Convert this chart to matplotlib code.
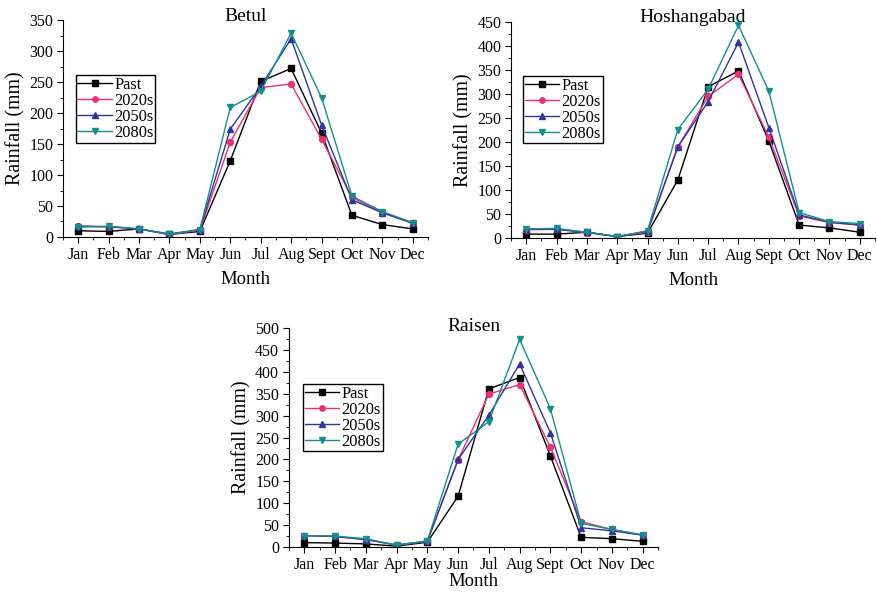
import matplotlib
matplotlib.use("Agg")
import matplotlib.pyplot as plt
from matplotlib.ticker import MultipleLocator

plt.rcParams['font.family'] = ['Liberation Serif', 'DejaVu Serif']
plt.rcParams['mathtext.fontset'] = 'stix'

months = ['Jan', 'Feb', 'Mar', 'Apr', 'May', 'Jun', 'Jul', 'Aug', 'Sept', 'Oct', 'Nov', 'Dec']
series_names = ['Past', '2020s', '2050s', '2080s']

# monthly rainfall (mm) per district
betul_past = [10, 9, 13, 4, 9, 123, 251, 272, 168, 35, 20, 13]
betul_2020s = [18, 16, 13, 4, 11, 153, 241, 247, 158, 64, 39, 23]
betul_2050s = [17, 17, 13, 5, 12, 174, 243, 320, 181, 60, 39, 22]
betul_2080s = [16, 17, 13, 4, 12, 209, 235, 329, 225, 66, 41, 23]

hosh_past = [8, 8, 12, 3, 10, 121, 315, 348, 202, 27, 21, 12]
hosh_2020s = [17, 18, 11, 3, 12, 190, 295, 341, 210, 46, 32, 27]
hosh_2050s = [19, 18, 12, 3, 14, 190, 284, 408, 230, 48, 33, 27]
hosh_2080s = [19, 20, 12, 3, 15, 226, 310, 443, 306, 53, 34, 30]

raisen_past = [10, 9, 7, 2, 11, 116, 361, 387, 208, 22, 19, 13]
raisen_2020s = [26, 24, 17, 4, 13, 199, 349, 371, 228, 58, 40, 27]
raisen_2050s = [26, 24, 17, 5, 13, 200, 301, 418, 261, 44, 37, 27]
raisen_2080s = [26, 25, 19, 4, 14, 235, 286, 474, 316, 54, 40, 28]

colors = ['black', '#EE2F74', '#2E35A0', '#13908E']
markers = ['s', 'o', '^', 'v']

fig = plt.figure(figsize=(8.77, 5.92), dpi=100)


def draw_panel(rect, title, data, ymax, legend_xy, xlabelpad, title_y):
    ax = fig.add_axes(rect)
    x = range(1, 13)
    for vals, name, c, m in zip(data, series_names, colors, markers):
        ax.plot(x, vals, color=c, marker=m, markersize=4.3, linewidth=1, label=name)
    ax.set_xlim(0.5, 12.5)
    ax.set_ylim(0, ymax)
    ax.set_xticks(list(x))
    ax.set_xticklabels(months)
    ax.xaxis.set_minor_locator(MultipleLocator(0.5))
    ax.yaxis.set_major_locator(MultipleLocator(50))
    ax.yaxis.set_minor_locator(MultipleLocator(25))
    ax.spines['top'].set_visible(False)
    ax.spines['right'].set_visible(False)
    ax.tick_params(which='major', direction='out', length=4, labelsize=11.5, pad=3)
    ax.tick_params(which='minor', direction='out', length=2.5)
    ax.set_xlabel('Month', fontsize=13.5, labelpad=xlabelpad)
    ax.set_ylabel('Rainfall (mm)', fontsize=14.3, labelpad=3)
    # title sits right on the top edge of the plot area
    ax.text(0.5, title_y, title, transform=ax.transAxes, ha='center',
            va='baseline', fontsize=14)
    leg = ax.legend(loc='upper left', bbox_to_anchor=legend_xy, fontsize=11.8,
                    handlelength=2.1, handletextpad=0.15, borderpad=0.1,
                    labelspacing=0.0, borderaxespad=0, fancybox=False,
                    edgecolor='black', framealpha=1, markerscale=0.9)
    leg.get_frame().set_linewidth(1)
    return ax


draw_panel([0.0718, 0.5997, 0.4162, 0.3663], 'Betul',
           [betul_past, betul_2020s, betul_2050s, betul_2080s], 350, (0.035, 0.745), 6, 0.995)
draw_panel([0.5827, 0.598, 0.415, 0.3648], 'Hoshangabad',
           [hosh_past, hosh_2020s, hosh_2050s, hosh_2080s], 450, (0.033, 0.75), 6, 0.998)
draw_panel([0.3295, 0.076, 0.4208, 0.3699], 'Raisen',
           [raisen_past, raisen_2020s, raisen_2050s, raisen_2080s], 500, (0.038, 0.745), 0, 0.985)

fig.savefig('out.png', dpi=100)
